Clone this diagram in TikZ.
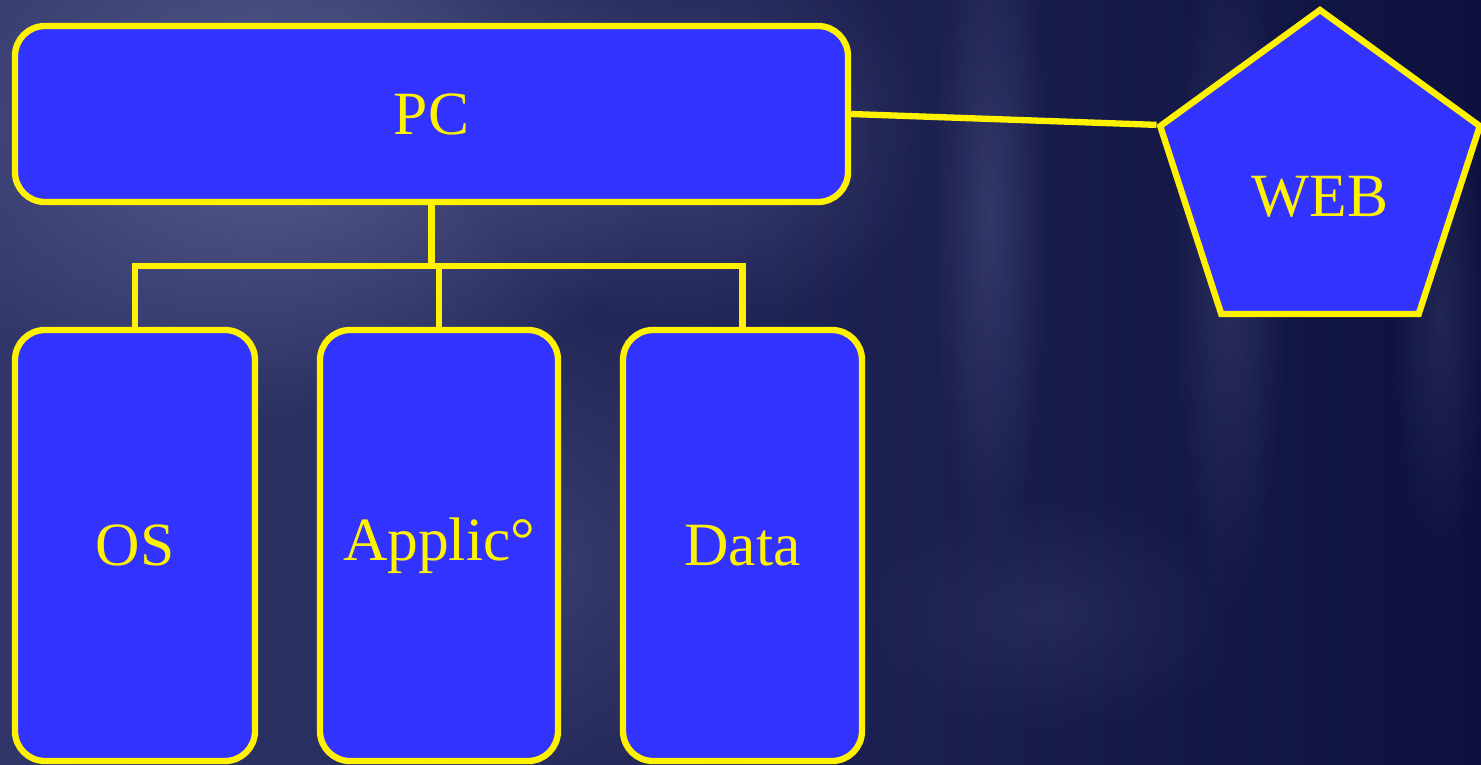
\documentclass[tikz,border=0pt]{standalone}
\usepackage{fontspec}
\setmainfont{Liberation Serif}
\usetikzlibrary{shapes.geometric,calc,fadings}

\definecolor{boxblue}{RGB}{51,51,255}
\definecolor{navy}{RGB}{16,20,72}
\definecolor{haze}{RGB}{112,118,170}
\tikzfading[name=softedge, inner color=transparent!0, outer color=transparent!100]

\begin{document}
\begin{tikzpicture}[
    box/.style={draw=yellow, fill=boxblue, line width=1.8pt, rounded corners=0.3cm,
      text=yellow, inner sep=0pt, font=\fontsize{17.5}{21}\selectfont},
    link/.style={draw=yellow, line width=1.8pt},
    glow/.style={fill=haze, path fading=softedge}
  ]
  \useasboundingbox (0,0) rectangle (14.81,7.64);
  \clip (0,0) rectangle (14.81,7.64);

  % background
  \shade[left color=haze!35!navy, right color=navy!85!black] (0,0) rectangle (14.81,7.64);
  \fill[glow, opacity=0.65] (2.8,6.4) ellipse (4cm and 3cm);
  \fill[glow, opacity=0.35] (7,6.3) ellipse (2.4cm and 2cm);
  \fill[glow, opacity=0.25] (5.5,2) ellipse (2.5cm and 2.5cm);
  \fill[glow, opacity=0.3] (9.9,5.5) ellipse (0.6cm and 3.5cm);
  \fill[glow, opacity=0.25] (12.3,5) ellipse (0.6cm and 3.5cm);
  \fill[glow, opacity=0.2] (14.4,4.5) ellipse (0.5cm and 2.5cm);
  \fill[glow, opacity=0.15] (10.5,1.5) ellipse (2cm and 1.2cm);

  \node[box, minimum width=8.33cm, minimum height=1.76cm] (pc) at (4.315,6.50) {PC};
  \node[box, minimum width=2.40cm, minimum height=4.31cm] (os) at (1.35,2.185) {OS};
  \node[box, minimum width=2.38cm, minimum height=4.31cm] (app) at (4.39,2.185) {Applic°};
  \node[box, minimum width=2.39cm, minimum height=4.31cm] (data) at (7.425,2.185) {Data};
  \node[box, regular polygon, regular polygon sides=5, minimum size=3.36cm,
    rounded corners=0pt] (web) at (13.20,5.86) {};
  \node[text=yellow, inner sep=0pt, font=\fontsize{17.5}{21}\selectfont] (webtext)
    at ($(web.center)+(0,-0.19)$) {WEB};

  \coordinate (bus) at (4.315,4.98);
  \draw[link] (pc.south) -- (pc.south |- bus);
  \draw[link] (os.north) |- (data.north |- bus) -- (data.north);
  \draw[link] (app.north) -- (app.north |- bus);
  \draw[link] (pc.east) -- (web.corner 2);
\end{tikzpicture}
\end{document}
